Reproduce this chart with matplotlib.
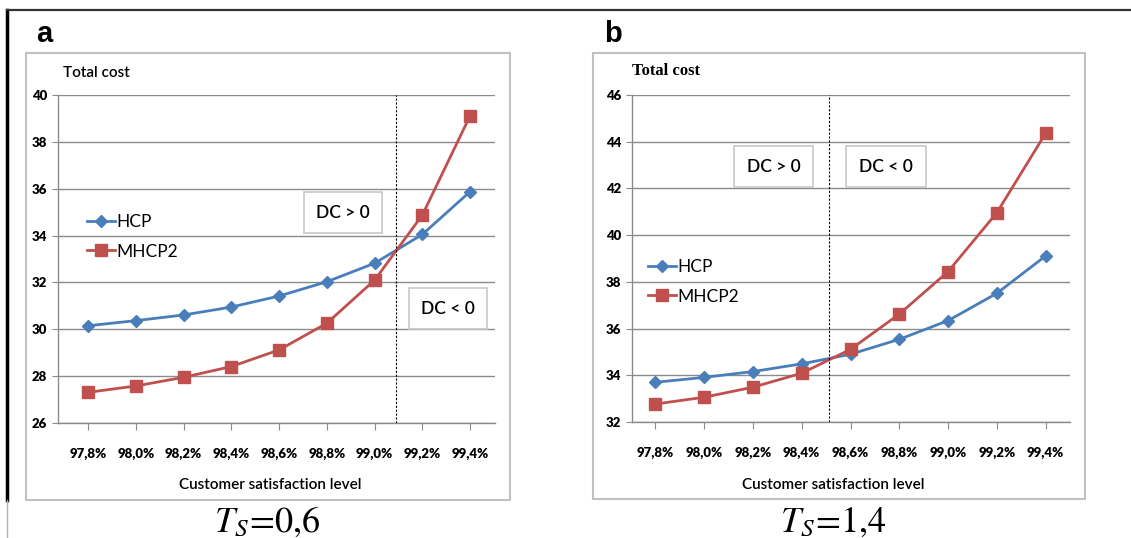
import matplotlib
matplotlib.use("Agg")
import matplotlib.pyplot as plt
from matplotlib.patches import Rectangle
from matplotlib.lines import Line2D

# ---- data ----
categories = ["97,8%", "98,0%", "98,2%", "98,4%", "98,6%", "98,8%", "99,0%", "99,2%", "99,4%"]
hcp_a = [30.15, 30.37, 30.61, 30.95, 31.42, 32.03, 32.82, 34.05, 35.88]
mhcp2_a = [27.31, 27.58, 27.95, 28.41, 29.12, 30.26, 32.10, 34.88, 39.12]
hcp_b = [33.70, 33.91, 34.16, 34.49, 34.90, 35.54, 36.34, 37.51, 39.11]
mhcp2_b = [32.77, 33.06, 33.49, 34.09, 35.11, 36.62, 38.44, 40.96, 44.36]
yticks_a = [26, 28, 30, 32, 34, 36, 38, 40]
yticks_b = [32, 34, 36, 38, 40, 42, 44, 46]
split_a = 6.44
split_b = 3.55

W, H = 1131, 538
fig = plt.figure(figsize=(W / 100, H / 100), dpi=100)
fig.patch.set_facecolor("white")


def fx(x):
    return x / W


def fy(y):
    return 1 - y / H


def axes_px(l, t, r, b):
    return fig.add_axes([fx(l), fy(b), (r - l) / W, (b - t) / H])


def box_px(l, t, r, b, ec="#c0c0c0", lw=1.5):
    fig.patches.append(Rectangle((fx(l), fy(b)), (r - l) / W, (b - t) / H,
                                 transform=fig.transFigure, fill=False, ec=ec, lw=lw))


blue = "#4a7ebb"
red = "#c0504d"
grid_c = "#8a8a8a"
tick_font = dict(family="Lato", weight="heavy", size=9.5)

# outer frame lines
fig.add_artist(Line2D([fx(7), fx(7)], [fy(10), fy(500)], transform=fig.transFigure, color="black", lw=2.5))
fig.add_artist(Line2D([fx(7), fx(7)], [fy(500), fy(538)], transform=fig.transFigure, color="#b0b0b0", lw=1))
fig.add_artist(Line2D([fx(7), fx(1131)], [fy(10), fy(10)], transform=fig.transFigure, color="#333333", lw=1.6))


def panel(ax_px, box, hcp, mh, yticks, split, xlim, letter, letter_xy, tc_xy, tc_font,
          dc_gt, dc_lt, leg_xy, xlabel_xy, caption, caption_xy):
    box_px(*box)
    ax = axes_px(*ax_px)
    x = list(range(len(categories)))
    ax.plot(x, hcp, color=blue, lw=2, marker="D", ms=6, mec=blue, mfc=blue, label="HCP")
    ax.plot(x, mh, color=red, lw=2, marker="s", ms=8.5, mec=red, mfc=red, label="MHCP2")
    ax.set_xlim(*xlim)
    ax.set_ylim(yticks[0], yticks[-1])
    ax.set_yticks(yticks)
    ax.set_yticklabels([str(v) for v in yticks], fontdict=tick_font)
    ax.set_xticks(x)
    ax.set_xticklabels(categories, fontdict=tick_font)
    ax.grid(axis="y", color=grid_c, lw=1)
    ax.set_axisbelow(True)
    for s in ["top", "right"]:
        ax.spines[s].set_visible(False)
    for s in ["left", "bottom"]:
        ax.spines[s].set_color(grid_c)
        ax.spines[s].set_linewidth(1)
    ax.tick_params(axis="y", length=4, color=grid_c, pad=4)
    ax.tick_params(axis="x", length=5, color=grid_c, pad=13)
    ax.axvline(split, color="black", lw=0.8, ls=(0, (2, 1.5)))
    ax.legend(loc="center left", bbox_to_anchor=(fx(leg_xy[0]), fy(leg_xy[1])),
              bbox_transform=fig.transFigure, frameon=False, handlelength=1.6,
              handletextpad=0.1, labelspacing=0.75, borderpad=0, borderaxespad=0,
              prop=dict(family="Lato", size=12.5))
    fig.text(fx(letter_xy[0]), fy(letter_xy[1]), letter, fontsize=21, weight="bold",
             family="Liberation Sans", ha="left", va="center")
    fig.text(fx(tc_xy[0]), fy(tc_xy[1]), "Total cost", ha="left", va="center", **tc_font)
    for (l, t, r, b), txt in (dc_gt, "DC > 0"), (dc_lt, "DC < 0"):
        box_px(l, t, r, b, ec="#c8c8c8", lw=1.2)
        fig.text(fx((l + r) / 2), fy((t + b) / 2), txt, ha="center", va="center",
                 family="Lato", weight="semibold", size=12.5)
    fig.text(fx(xlabel_xy[0]), fy(xlabel_xy[1]), "Customer satisfaction level",
             ha="center", va="center", family="Lato", weight="semibold", size=11)
    fig.text(fx(caption_xy[0]), fy(caption_xy[1]), caption, ha="center", va="baseline",
             size=26, math_fontfamily="stix")
    return ax


panel((58, 95, 495, 423), (26, 53, 510, 500), hcp_a, mhcp2_a, yticks_a, split_a,
      (-0.63, 8.52), "a", (36, 34), (63, 73),
      dict(family="Lato", weight="semibold", size=11),
      (304, 192, 382, 233), (409, 288, 487, 329), (87, 237), (270, 485),
      r"$T_S\!=\!0{,}6$", (267, 532))

panel((632, 95, 1070, 422), (593, 53, 1085, 499), hcp_b, mhcp2_b, yticks_b, split_b,
      (-0.48, 8.5), "b", (604, 34), (632, 71),
      dict(family="Liberation Serif", weight="bold", size=12),
      (734, 146, 813, 187), (846, 146, 926, 187), (648, 282), (833, 485),
      r"$T_S\!=\!1{,}4$", (833, 532))

fig.savefig("out.png", dpi=100)
